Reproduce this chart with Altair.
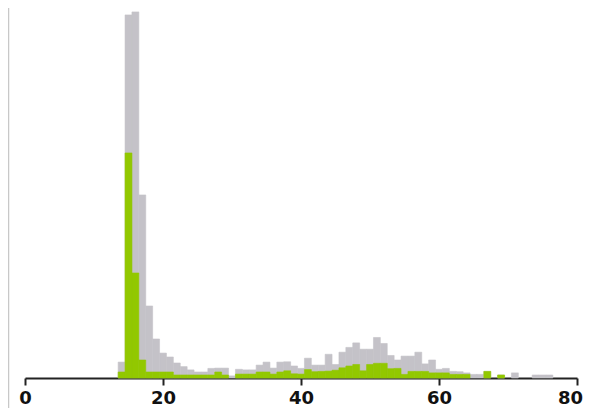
import altair as alt
import pandas as pd

# bin centres (integer values), each bin is 1 unit wide
bins = list(range(13, 77))
total = [0, 5.3, 121, 122, 61, 24, 13, 8.3, 7, 5, 3.8, 2.7, 2, 2, 3.2, 3.3, 3.3, 0.7,
         2.9, 2.7, 2.7, 4.3, 5.3, 3.3, 5.3, 5.4, 4, 3.2, 6.6, 4.3, 4.3, 7.9, 4.5, 8.6,
         10.2, 11.7, 9.6, 9.6, 13.5, 11.5, 7.5, 6, 7.3, 7.3, 8.6, 4.7, 6, 2.9, 3.2, 2.2,
         2.1, 1.7, 1.2, 1.2, 2.2, 0, 1, 0, 1.7, 0, 0, 1, 1, 1]
subset = [0, 2, 75, 35, 6, 2, 2, 2, 2, 1, 1, 1, 1, 1, 1, 2, 1, 0,
          1.3, 1.3, 1.3, 2, 2, 1.3, 2, 2.4, 1.4, 1.3, 2.8, 2.1, 2.2, 2.3, 2.6, 3.4,
          4, 4.5, 2.4, 4.5, 4.9, 4.9, 3.1, 3.2, 1.2, 2.2, 2.2, 2.2, 1.7, 1.7, 1.7, 1.2,
          1.2, 1.2, 0, 0, 2.2, 0, 1, 0, 0, 0, 0, 0, 0, 0]
x_ticks = [0, 20, 40, 60, 80]

df = pd.DataFrame({"bin": bins, "total": total, "subset": subset})
df["lo"] = df["bin"] - 0.5
df["hi"] = df["bin"] + 0.5

xs = alt.Scale(domain=[0, 80], nice=False, zero=False)
ys = alt.Scale(domain=[0, 123.3], nice=False)

xaxis = alt.Axis(values=x_ticks, title=None, grid=False, domainColor="#222222",
                 domainWidth=2, tickColor="#222222", tickWidth=2, tickSize=7,
                 labelFont="DejaVu Sans", labelFontWeight="bold", labelFontSize=18,
                 labelColor="#111111", labelPadding=4, labelFlush=False, format="d",
                 labelOffset=alt.ConditionalAxisNumber(condition={"test": "datum.value == 80", "value": -7}, value=0))

GREY = "#c4c2c8"
GREEN = "#92c800"

base = alt.Chart(df)
grey = base.transform_filter("datum.total > 0").mark_rect(
    color=GREY, stroke=GREY, strokeWidth=0.6).encode(
    x=alt.X("lo:Q", scale=xs, axis=xaxis),
    x2="hi:Q",
    y=alt.Y("total:Q", scale=ys, axis=None),
    y2=alt.datum(0),
)
green = base.transform_filter("datum.subset > 0").mark_rect(
    color=GREEN, stroke=GREEN, strokeWidth=0.6).encode(
    x=alt.X("lo:Q", scale=xs),
    x2="hi:Q",
    y=alt.Y("subset:Q", scale=ys),
    y2=alt.datum(0),
)
border = alt.Chart(pd.DataFrame({"a": [0]})).mark_rule(color="#c8c8c8", strokeWidth=1.5).encode(
    x=alt.value(-16.5), y=alt.value(0), y2=alt.value(400)
)

chart = alt.layer(grey, green, border).properties(
    width=552, height=370,
    autosize=alt.AutoSizeParams(type="none"),
    padding={"left": 17, "top": 0, "right": 7, "bottom": 30},
).configure_view(stroke=None)

chart.save("out.html", embed_options={"renderer": "svg", "actions": False})
